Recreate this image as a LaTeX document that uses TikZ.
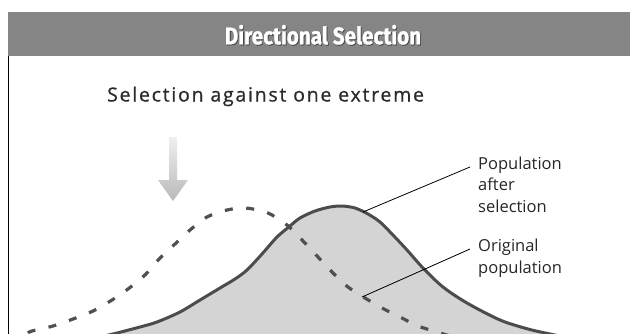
\documentclass[tikz,border=0pt]{standalone}
\usepackage{fontspec}
\setmainfont{Open Sans}
\newfontfamily\titlefont[FakeStretch=0.86,FakeBold=1.2]{Fira Sans}
\newfontfamily\subfont[FakeBold=0.8,LetterSpace=9]{Open Sans}
\newfontfamily\labfont{Open Sans}
\definecolor{barc}{HTML}{858585}
\definecolor{fillc}{HTML}{D4D4D4}
\definecolor{curvec}{HTML}{4C4C4C}
\definecolor{dashc}{HTML}{505050}
\definecolor{subc}{HTML}{2A2A2A}
\tikzset{
  leader/.style={draw=black, line width=0.8pt},
  lab/.style={anchor=base west, inner sep=0pt, font=\labfont\fontsize{16.5}{21.5}\selectfont, text=black!85, align=left},
  solidcurve/.style={draw=curvec, line width=3pt, line join=round},
  origcurve/.style={draw=dashc, line width=3.2pt, dash pattern=on 8pt off 13.5pt},
}
\begin{document}
\begin{tikzpicture}[x=1pt,y=-1pt]
\useasboundingbox (0,0) rectangle (630,333);
\begin{scope}
\clip (0,0) rectangle (630,333);
% title bar
\fill[barc] (8,12) rectangle (631,56);
\node[font=\titlefont\bfseries\fontsize{24}{24}\selectfont, text=black!75] (titleshadow) at (323.8,35.6) {Directional Selection};
\node[font=\titlefont\bfseries\fontsize{24}{24}\selectfont, text=white] (title) at (323,34.8) {Directional Selection};
% frame line
\draw[black, line width=0.8pt] (8,56) -- (8,334);
% subtitle
\node[anchor=base west, inner sep=0pt, font=\subfont\fontsize{19.5}{19.5}\selectfont, text=subc] (sub) at (107,101.5) {Selection against one extreme};
% arrow
\shade[top color=gray!12, bottom color=gray!55]
  (169,137) -- (177,137) -- (177,180) -- (188,180) -- (173,201) -- (158,180) -- (169,180) -- cycle;
% population after selection (filled)
\fill[fillc] plot[smooth] coordinates {(100,337) (117,333) (140,327) (157,322) (180,312) (200,300) (220,288) (235,279) (247,270) (262,254) (277,237) (290,226) (300,218) (315,211) (330,207) (342,206) (355,208) (368,214) (380,222) (392,234) (407,250) (423,268) (443,287) (467,303) (500,320) (528,329) (550,334) (570,338)} -- (570,345) -- (100,345) -- cycle;
% original population (dashed)
\draw[origcurve] plot[smooth] coordinates {(28,333) (32,331) (53,326) (73,319) (93,311) (112,300) (128,289) (145,275) (160,258) (175,244) (190,230) (207,217) (227,210) (245,208) (262,211) (272,215) (287,225) (303,241) (318,257) (332,272) (348,287) (365,298) (382,308) (400,317) (418,326) (437,332) (450,336)};
% solid curve
\draw[solidcurve] plot[smooth] coordinates {(100,337) (117,333) (140,327) (157,322) (180,312) (200,300) (220,288) (235,279) (247,270) (262,254) (277,237) (290,226) (300,218) (315,211) (330,207) (342,206) (355,208) (368,214) (380,222) (392,234) (407,250) (423,268) (443,287) (467,303) (500,320) (528,329) (550,334) (570,338)};
\end{scope}
% labels (base anchor = baseline of the last line)
\node[lab] (after) at (478,212) {Population\\after\\selection};
\node[lab] (orig) at (478,273) {Original\\population};
\coordinate (pa) at (363,212);
\coordinate (pb) at (470,167);
\coordinate (oa) at (362,297);
\coordinate (ob) at (470,249);
\draw[leader] (pa) -- (pb);
\draw[leader] (oa) -- (ob);
\end{tikzpicture}
\end{document}
